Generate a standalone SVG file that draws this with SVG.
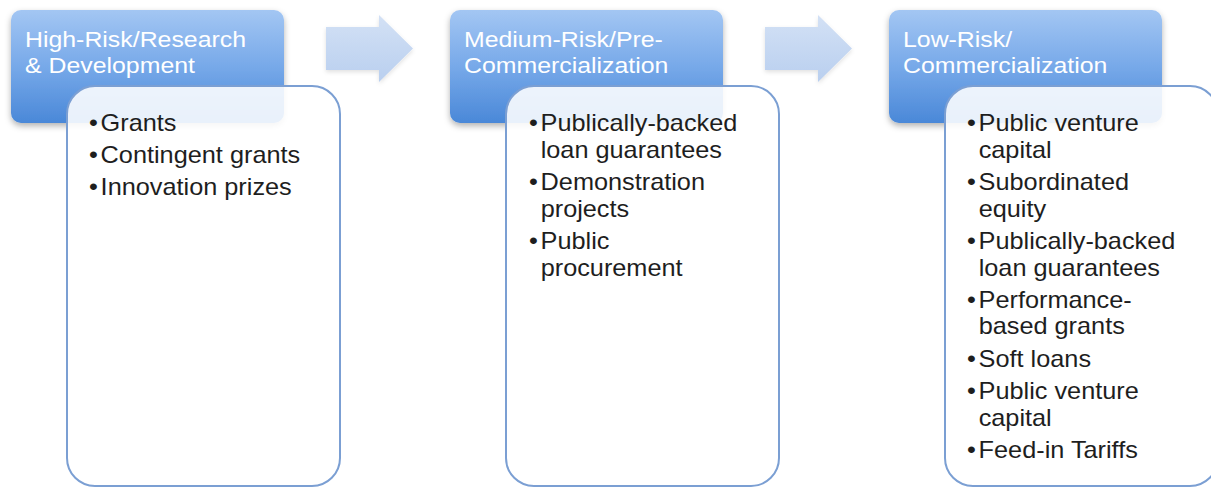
<svg xmlns="http://www.w3.org/2000/svg" width="1211" height="488" viewBox="0 0 1211 488">
<defs>
<linearGradient id="hdr" x1="0" y1="0" x2="0" y2="1">
<stop offset="0" stop-color="#a3c6f3"/>
<stop offset="0.5" stop-color="#77a9e9"/>
<stop offset="1" stop-color="#4a88d8"/>
</linearGradient>
<linearGradient id="arr" x1="0" y1="0" x2="0" y2="1">
<stop offset="0" stop-color="#d3e1f5"/>
<stop offset="1" stop-color="#b9cfef"/>
</linearGradient>
<filter id="sh" x="-10%" y="-10%" width="120%" height="130%">
<feDropShadow dx="0" dy="3" stdDeviation="3" flood-color="#000" flood-opacity="0.3"/>
</filter>
<filter id="sha" x="-10%" y="-10%" width="120%" height="130%">
<feDropShadow dx="0" dy="2" stdDeviation="2" flood-color="#000" flood-opacity="0.12"/>
</filter>
<path id="arrow" d="M0,17 H53 V5 L87,38.5 L53,72 V60 H0 Z"/>
</defs>
<style>
.hdr{fill:url(#hdr);filter:url(#sh)}
.box{fill:#fff;fill-opacity:0.88;stroke:#7b9fd3;stroke-width:2}
.ht{font-family:"Liberation Sans",Arial,Helvetica,sans-serif;font-size:22px;fill:#fff}
.bt{font-family:"Liberation Sans",Arial,Helvetica,sans-serif;font-size:23px;fill:#1e1e1e}
.ar{fill:url(#arr);filter:url(#sha)}
</style>
<rect width="1211" height="488" fill="#fff"/>

<g id="connectors">
<use href="#arrow" class="ar" x="326" y="10"/>
<use href="#arrow" class="ar" x="765" y="10"/>
</g>

<g id="stage1">
<rect class="hdr" x="11" y="10" width="273" height="113" rx="10"/>
<g transform="translate(25,0) scale(1.13,1)">
<text class="ht" x="0" y="47">High-Risk/Research</text>
<text class="ht" x="0" y="73">&amp; Development</text>
</g>
<rect class="box" x="67" y="86" width="273" height="400" rx="28"/>
<g transform="translate(89,0) scale(1.1,1)">
<text class="bt" x="0" y="131.5">•<tspan dx="2.5">Grants</tspan></text>
<text class="bt" x="0" y="163.3">•<tspan dx="2.5">Contingent grants</tspan></text>
<text class="bt" x="0" y="195">•<tspan dx="2.5">Innovation prizes</tspan></text>
</g>
</g>

<g id="stage2">
<rect class="hdr" x="450" y="10" width="273" height="113" rx="10"/>
<g transform="translate(464,0) scale(1.13,1)">
<text class="ht" x="0" y="47">Medium-Risk/Pre-</text>
<text class="ht" x="0" y="73">Commercialization</text>
</g>
<rect class="box" x="506" y="86" width="273" height="400" rx="28"/>
<g transform="translate(529,0) scale(1.1,1)">
<text class="bt" x="0" y="131.5">•<tspan dx="2.5">Publically-backed</tspan></text>
<text class="bt" x="10.6" y="158">loan guarantees</text>
<text class="bt" x="0" y="190.3">•<tspan dx="2.5">Demonstration</tspan></text>
<text class="bt" x="10.6" y="216.8">projects</text>
<text class="bt" x="0" y="249.1">•<tspan dx="2.5">Public</tspan></text>
<text class="bt" x="10.6" y="275.6">procurement</text>
</g>
</g>

<g id="stage3">
<rect class="hdr" x="889" y="10" width="273" height="113" rx="10"/>
<g transform="translate(903,0) scale(1.13,1)">
<text class="ht" x="0" y="47">Low-Risk/</text>
<text class="ht" x="0" y="73">Commercialization</text>
</g>
<rect class="box" x="945" y="86" width="273" height="400" rx="28"/>
<g transform="translate(967,0) scale(1.1,1)">
<text class="bt" x="0" y="131.5">•<tspan dx="2.5">Public venture</tspan></text>
<text class="bt" x="10.6" y="158">capital</text>
<text class="bt" x="0" y="190.3">•<tspan dx="2.5">Subordinated</tspan></text>
<text class="bt" x="10.6" y="216.8">equity</text>
<text class="bt" x="0" y="249.1">•<tspan dx="2.5">Publically-backed</tspan></text>
<text class="bt" x="10.6" y="275.6">loan guarantees</text>
<text class="bt" x="0" y="307.9">•<tspan dx="2.5">Performance-</tspan></text>
<text class="bt" x="10.6" y="334.4">based grants</text>
<text class="bt" x="0" y="366.7">•<tspan dx="2.5">Soft loans</tspan></text>
<text class="bt" x="0" y="399">•<tspan dx="2.5">Public venture</tspan></text>
<text class="bt" x="10.6" y="425.5">capital</text>
<text class="bt" x="0" y="457.8">•<tspan dx="2.5">Feed-in Tariffs</tspan></text>
</g>
</g>
</svg>
